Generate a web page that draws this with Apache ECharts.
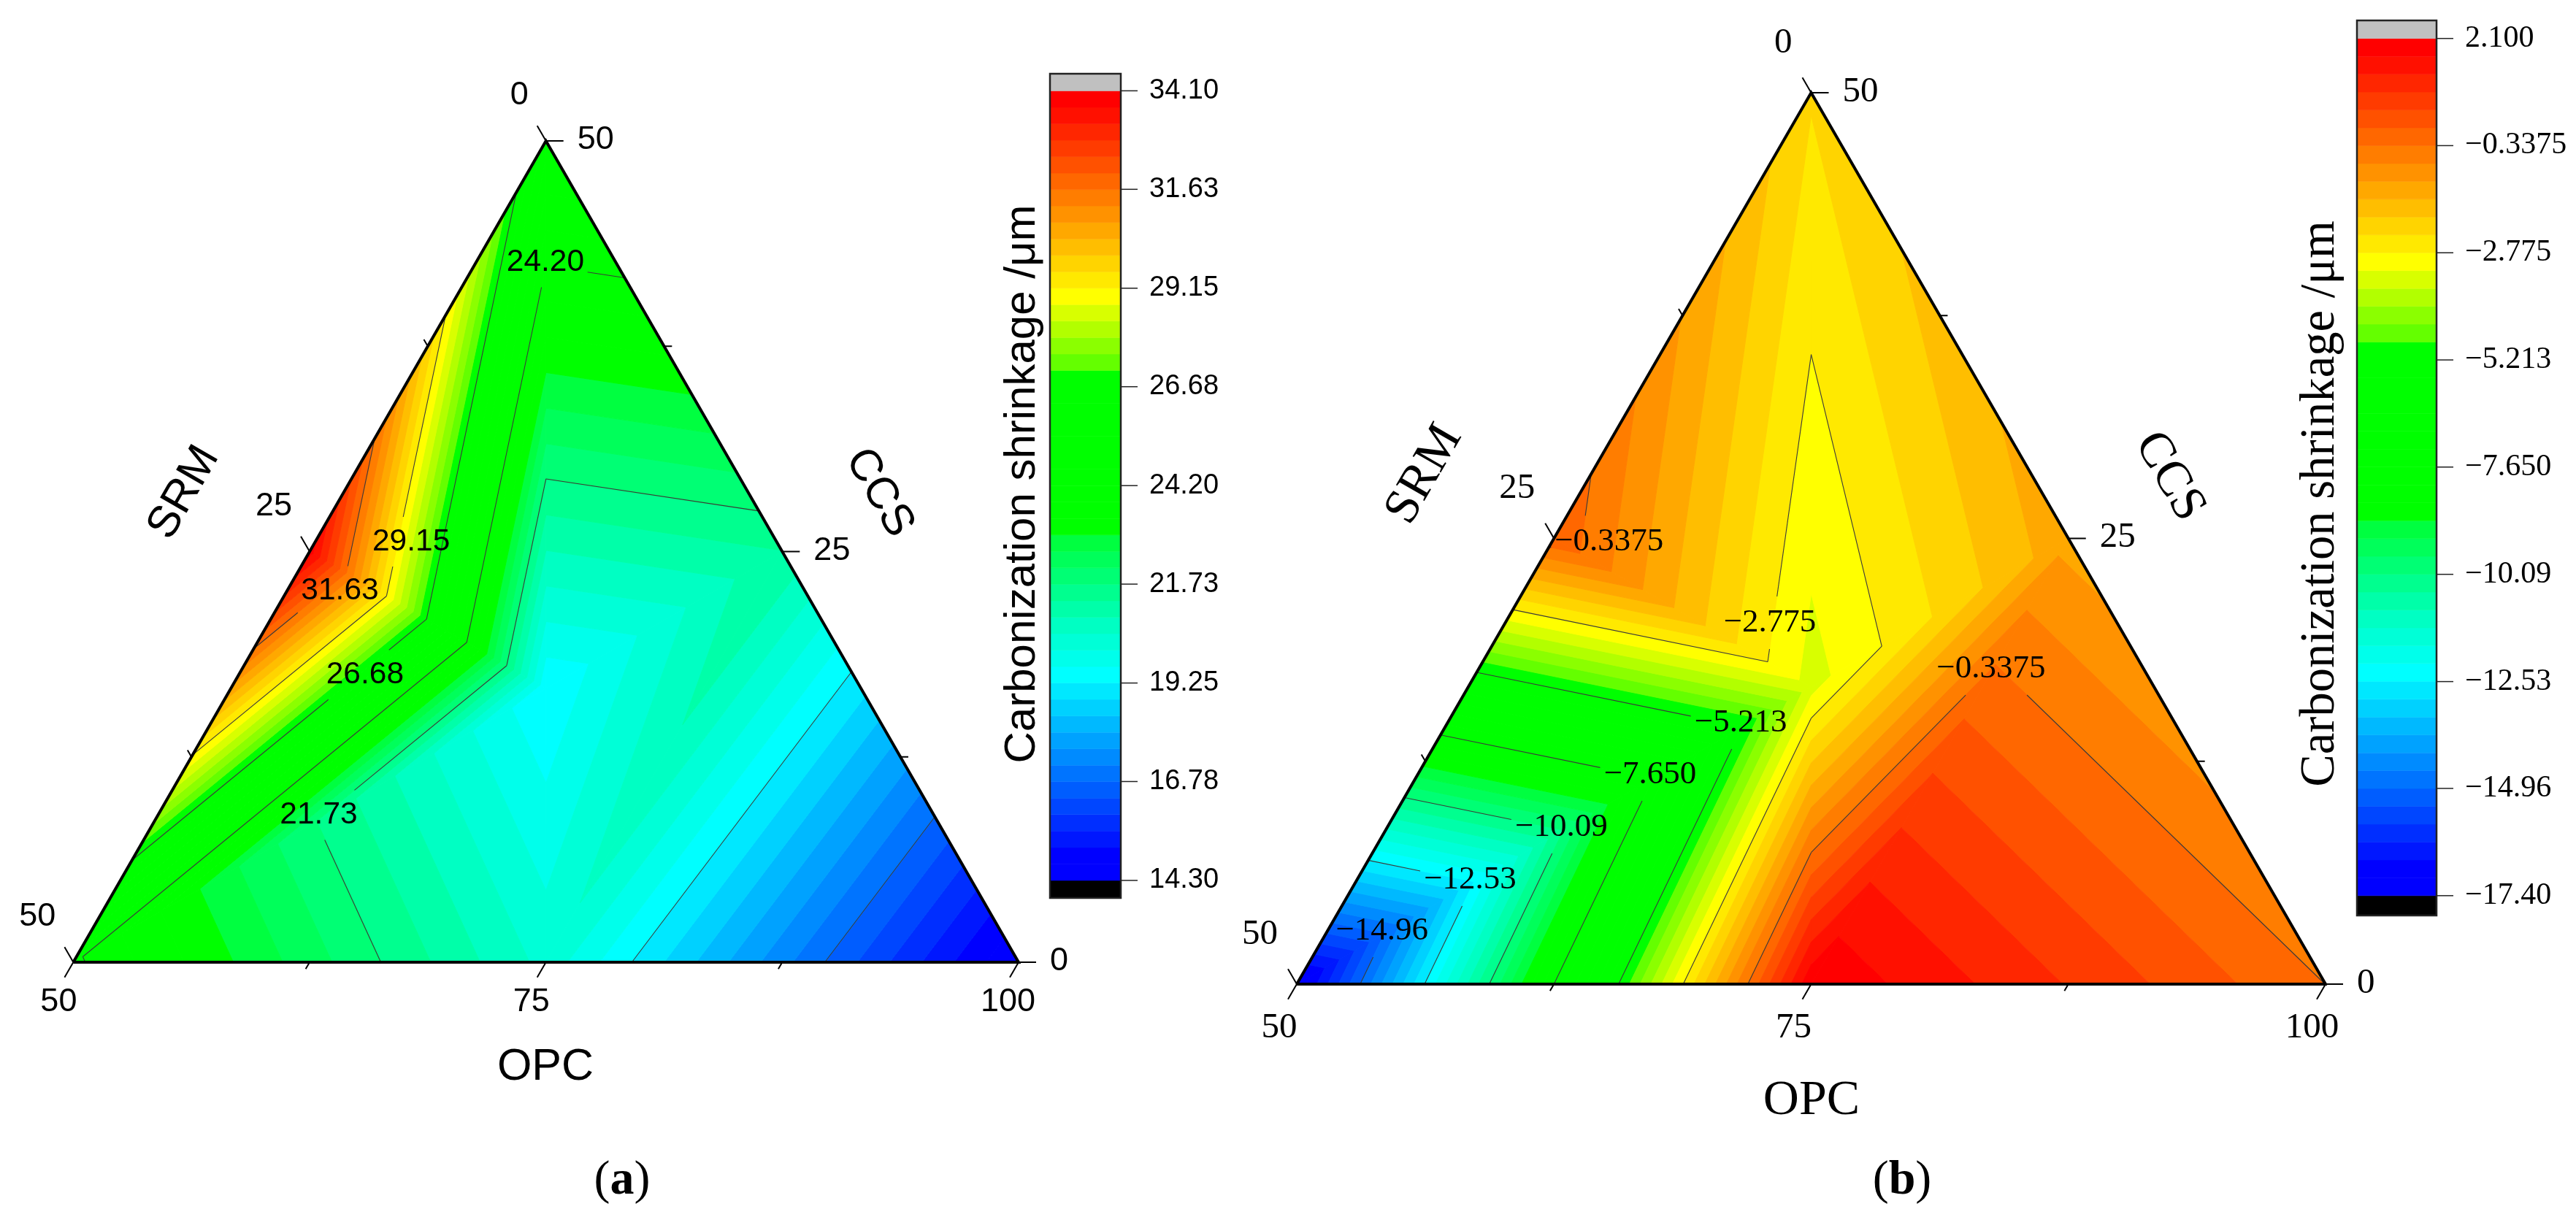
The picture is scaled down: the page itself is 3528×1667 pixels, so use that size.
<!DOCTYPE html>
<html>
<head>
<meta charset="utf-8">
<style>html,body{margin:0;padding:0;background:#fff}#c{width:3528px;height:1667px}</style>
<script src="https://cdn.jsdelivr.net/npm/echarts@6/dist/echarts.min.js"></script>
</head>
<body>
<div id="c"></div>
<script>
// ---------- DATA ----------
// Design points of the ternary mix: top, left-mid, left, bottom-mid, right, right-mid, centroid
const nodeOPC = [50, 50, 50, 75, 100, 75, 66.67];
const nodeSRM = [0, 25, 50, 25, 0, 0, 16.67];
const nodeCCS = [50, 25, 0, 0, 0, 25, 16.67];
const shrinkageA = [25.65, 33.9, 24.3, 20.35, 14.3, 21.3, 19.3];
const shrinkageB = [-2.33, 0.0, -17.35, 2.05, -0.34, -1.28, -3.34];
// Tick values of the three ternary axes
const opcTicks = [50, 62.5, 75, 87.5, 100];
const opcTickText = ['50', '', '75', '', '100'];
const srmTicks = [0, 12.5, 25, 37.5, 50];
const srmTickText = ['0', '', '25', '', '50'];
const ccsTicks = [0, 12.5, 25, 37.5, 50];
const ccsTickText = ['0', '', '25', '', '50'];
// Colour-scale ticks
const scaleA = [14.30, 16.78, 19.25, 21.73, 24.20, 26.68, 29.15, 31.63, 34.10];
const scaleTextA = ['14.30', '16.78', '19.25', '21.73', '24.20', '26.68', '29.15', '31.63', '34.10'];
const scaleB = [-17.40, -14.96, -12.53, -10.09, -7.650, -5.213, -2.775, -0.3375, 2.100];
const scaleTextB = ['\u221217.40', '\u221214.96', '\u221212.53', '\u221210.09', '\u22127.650', '\u22125.213', '\u22122.775', '\u22120.3375', '2.100'];
// Contour levels
const contourA = [16.78, 19.25, 21.73, 24.20, 26.68, 29.15, 31.63];
const contourB = [-14.96, -12.53, -10.09, -7.650, -5.213, -2.775, -0.3375];
// Contour labels: level, OPC, CCS where they sit
const labelLevelA = [24.20, 29.15, 31.63, 26.68, 21.73];
const labelTextA = ['24.20', '29.15', '31.63', '26.68', '21.73'];
const labelOpcA = [53.67, 55.07, 52.8, 56.68, 58.5];
const labelCcsA = [42.6, 25.6, 22.6, 17.5, 8.96];
const labelLevelB = [-0.3375, -2.775, -5.213, -7.650, -10.09, -12.53, -14.96, -0.3375];
const labelTextB = ['\u22120.3375', '\u22122.775', '\u22125.213', '\u22127.650', '\u221210.09', '\u221212.53', '\u221214.96', '\u22120.3375'];
const labelOpcB = [52.78, 62.86, 64.25, 61.3, 58.46, 55.5, 52.65, 74.9];
const labelCcsB = [24.8, 20.27, 14.66, 11.75, 8.8, 5.86, 2.99, 17.69];

// ---------- STYLE / LAYOUT ----------
const triangles = [[2, 3, 6], [3, 5, 6], [3, 4, 5], [5, 0, 6], [0, 1, 6], [1, 2, 6]];
const BANDS = 48;
const colourStops = [
  [0, [0, 0, 255]], [1, [0, 0, 255]], [12, [0, 255, 255]], [15, [0, 255, 195]], [20, [0, 255, 64]], [21, [0, 255, 0]], [30, [0, 255, 0]],
  [31, [100, 255, 0]], [35, [255, 255, 0]], [46, [255, 16, 0]], [47, [255, 0, 0]]
];
function bandColour(i) {
  for (let s = 1; s < colourStops.length; s++) {
    const a = colourStops[s - 1], b = colourStops[s];
    if (i <= b[0]) {
      const t = (i - a[0]) / (b[0] - a[0]);
      return 'rgb(' + a[1].map((c, k) => Math.round(c + (b[1][k] - c) * t)).join(',') + ')';
    }
  }
  return 'rgb(255,0,0)';
}
function toXY(opc, ccs) { return [opc + ccs / 2, ccs]; }

const PLOTS = [
  {
    values: shrinkageA, scale: scaleA, scaleText: scaleTextA, levels: contourA,
    labelLevel: labelLevelA, labelText: labelTextA, labelOpc: labelOpcA, labelCcs: labelCcsA,
    grid: { left: 100.4, top: 193, width: 1294.6, height: 1125 },
    bar: { left: 1438, top: 101, width: 97, height: 1129 }, barExtra: [0.44, 0.428],
    family: '"Liberation Sans"', tickFont: 45, labelFont: 42.5, scaleFont: 38, charW: 21.5, gapH: 34,
    tickLen: 24, lineW: 4,
    off: { bottom: [-20, 55], right: [43, -1], left: [-24, -62] },
    titles: [
      { text: 'SRM', x: 252, y: 675, rot: 60, size: 61 },
      { text: 'CCS', x: 1204, y: 675, rot: -60, size: 61 },
      { text: 'OPC', x: 747, y: 1462, rot: 0, size: 61 },
      { text: 'Carbonization shrinkage /\u03bcm', x: 1400, y: 663, rot: 90, size: 60 }
    ]
  },
  {
    values: shrinkageB, scale: scaleB, scaleText: scaleTextB, levels: contourB,
    labelLevel: labelLevelB, labelText: labelTextB, labelOpc: labelOpcB, labelCcs: labelCcsB,
    grid: { left: 1776, top: 127, width: 1409, height: 1221 },
    bar: { left: 3228, top: 28, width: 109, height: 1226 }, barExtra: [0.451, 0.41],
    family: '"Liberation Serif"', tickFont: 49, labelFont: 45, scaleFont: 42, charW: 21.5, gapH: 36,
    tickLen: 24, lineW: 4,
    off: { bottom: [-24, 60], right: [43, -1], left: [-26, -68] },
    titles: [
      { text: 'SRM', x: 1951, y: 650, rot: 60, size: 68 },
      { text: 'CCS', x: 2971, y: 653, rot: -60, size: 68 },
      { text: 'OPC', x: 2481, y: 1508, rot: 0, size: 68 },
      { text: 'Carbonization shrinkage /\u03bcm', x: 3178, y: 690, rot: 90, size: 66.6 }
    ]
  }
];

// ---------- GEOMETRY FROM THE DATA ----------
function clipBand(poly, lo, hi) {
  function cut(p, test, level) {
    const out = [];
    for (let i = 0; i < p.length; i++) {
      const a = p[i], b = p[(i + 1) % p.length];
      const ia = test(a[2]), ib = test(b[2]);
      if (ia) out.push(a);
      if (ia !== ib) {
        const t = (level - a[2]) / (b[2] - a[2]);
        out.push([a[0] + (b[0] - a[0]) * t, a[1] + (b[1] - a[1]) * t, level]);
      }
    }
    return out;
  }
  let r = cut(poly, v => v >= lo, lo);
  if (r.length) r = cut(r, v => v <= hi, hi);
  return r;
}
function buildBands(values, vmin, vmax) {
  const step = (vmax - vmin) / BANDS, polys = [];
  const nodes = values.map((v, i) => { const p = toXY(nodeOPC[i], nodeCCS[i]); return [p[0], p[1], v]; });
  for (let b = 0; b < BANDS; b++) {
    const lo = b === 0 ? -1e9 : vmin + b * step, hi = b === BANDS - 1 ? 1e9 : vmin + (b + 1) * step;
    triangles.forEach(tr => {
      const r = clipBand(tr.map(k => nodes[k]), lo, hi);
      if (r.length >= 3) polys.push({ pts: r.map(q => [q[0], q[1]]), color: bandColour(b) });
    });
  }
  return polys;
}
function buildContours(values, levels) {
  const segs = [];
  const nodes = values.map((v, i) => { const p = toXY(nodeOPC[i], nodeCCS[i]); return [p[0], p[1], v]; });
  levels.forEach(level => {
    triangles.forEach(tr => {
      const pts = [];
      for (let e = 0; e < 3; e++) {
        const a = nodes[tr[e]], b = nodes[tr[(e + 1) % 3]];
        if ((a[2] - level) * (b[2] - level) < 0) {
          const t = (level - a[2]) / (b[2] - a[2]);
          pts.push([a[0] + (b[0] - a[0]) * t, a[1] + (b[1] - a[1]) * t]);
        }
      }
      if (pts.length === 2) segs.push([pts[0][0], pts[0][1], pts[1][0], pts[1][1], level]);
    });
  });
  return segs;
}
// Pieces of a pixel segment lying outside the rectangles
function cutOutside(p, q, rects) {
  let pieces = [[0, 1]];
  const dx = q[0] - p[0], dy = q[1] - p[1];
  rects.forEach(r => {
    let t0 = 0, t1 = 1, hit = true;
    [[-dx, p[0] - r[0]], [dx, r[1] - p[0]], [-dy, p[1] - r[2]], [dy, r[3] - p[1]]].forEach(c => {
      if (c[0] === 0) { if (c[1] < 0) hit = false; return; }
      const t = c[1] / c[0];
      if (c[0] < 0) t0 = Math.max(t0, t); else t1 = Math.min(t1, t);
    });
    if (hit && t0 < t1) {
      const next = [];
      pieces.forEach(s => {
        if (t1 <= s[0] || t0 >= s[1]) { next.push(s); return; }
        if (t0 > s[0]) next.push([s[0], t0]);
        if (t1 < s[1]) next.push([t1, s[1]]);
      });
      pieces = next;
    }
  });
  return pieces.map(s => [[p[0] + dx * s[0], p[1] + dy * s[0]], [p[0] + dx * s[1], p[1] + dy * s[1]]]);
}

// ---------- OPTION ----------
const grid = [], xAxis = [], yAxis = [], series = [], graphic = [];

PLOTS.forEach((P, n) => {
  const gi = grid.length;
  const vmin = P.scale[0], vmax = P.scale[P.scale.length - 1];
  const step = (vmax - vmin) / BANDS;
  grid.push(Object.assign({ containLabel: false }, P.grid));
  xAxis.push({ gridIndex: gi, type: 'value', min: 50, max: 100, show: false });
  yAxis.push({ gridIndex: gi, type: 'value', min: 0, max: 50, show: false });

  const polys = buildBands(P.values, vmin, vmax);
  series.push({
    type: 'custom', xAxisIndex: gi, yAxisIndex: gi, z: 1, clip: false, silent: true, animation: false,
    data: polys.map((p, i) => [i]),
    renderItem: (params, api) => {
      const p = polys[api.value(0)];
      return { type: 'polygon', shape: { points: p.pts.map(q => api.coord(q)) }, style: { fill: p.color, stroke: p.color, lineWidth: 1 } };
    }
  });

  const rects = api => P.labelLevel.map((lv, i) => {
    const c = api.coord(toXY(P.labelOpc[i], P.labelCcs[i]));
    const hw = P.labelText[i].length * P.charW / 2 + 4;
    return { lv, r: [c[0] - hw, c[0] + hw, c[1] - P.gapH, c[1] + P.gapH] };
  });
  series.push({
    type: 'custom', xAxisIndex: gi, yAxisIndex: gi, z: 2, clip: false, silent: true, animation: false,
    data: buildContours(P.values, P.levels),
    renderItem: (params, api) => {
      const a = api.coord([api.value(0), api.value(1)]), b = api.coord([api.value(2), api.value(3)]);
      const lv = api.value(4);
      const own = rects(api).filter(o => o.lv === lv).map(o => o.r);
      return {
        type: 'group',
        children: cutOutside(a, b, own).map(s => ({
          type: 'line',
          shape: { x1: s[0][0], y1: s[0][1], x2: s[1][0], y2: s[1][1] },
          style: { stroke: '#3a3a3a', lineWidth: 1.1, fill: null }
        }))
      };
    }
  });

  // Triangle frame, from the three pure corners
  const corners = [toXY(50, 0), toXY(100, 0), toXY(50, 50), toXY(50, 0)];
  series.push({
    type: 'line', xAxisIndex: gi, yAxisIndex: gi, z: 3, clip: false, silent: true, animation: false,
    showSymbol: false, symbol: 'none', data: corners,
    lineStyle: { color: '#000', width: P.lineW, join: 'miter' }
  });

  // Axis ticks + labels
  const tickData = [];
  opcTicks.forEach((v, i) => tickData.push({ xy: toXY(v, 0), side: 'bottom', major: i % 2 === 0, text: opcTickText[i] }));
  ccsTicks.forEach((v, i) => tickData.push({ xy: toXY(100 - v, v), side: 'right', major: i % 2 === 0, text: ccsTickText[i] }));
  srmTicks.forEach((v, i) => tickData.push({ xy: toXY(50, 50 - v), side: 'left', major: i % 2 === 0, text: srmTickText[i] }));
  const dirs = { bottom: [-0.5, 0.866], right: [1, 0], left: [-0.5, -0.866] };
  const aligns = { bottom: 'center', right: 'left', left: 'right' };
  series.push({
    type: 'custom', xAxisIndex: gi, yAxisIndex: gi, z: 4, clip: false, silent: true, animation: false,
    data: tickData.map((t, i) => [t.xy[0], t.xy[1], i]),
    renderItem: (params, api) => {
      const t = tickData[api.value(2)];
      const c = api.coord([api.value(0), api.value(1)]);
      const d = dirs[t.side], len = t.major ? P.tickLen : P.tickLen * 0.45;
      const kids = [{
        type: 'line',
        shape: { x1: c[0], y1: c[1], x2: c[0] + d[0] * len, y2: c[1] + d[1] * len },
        style: { stroke: '#000', lineWidth: 2, fill: null }
      }];
      if (t.text) {
        const o = P.off[t.side];
        const extra = t.side === 'bottom' ? (t.text.length - 2) * 5.5 : 0;
        kids.push({
          type: 'text', x: c[0] + o[0] + extra, y: c[1] + o[1],
          style: { text: t.text, fill: '#000', font: P.tickFont + 'px ' + P.family, align: aligns[t.side], verticalAlign: 'middle' }
        });
      }
      return { type: 'group', children: kids };
    }
  });

  // Contour labels
  series.push({
    type: 'custom', xAxisIndex: gi, yAxisIndex: gi, z: 5, clip: false, silent: true, animation: false,
    data: P.labelText.map((t, i) => { const q = toXY(P.labelOpc[i], P.labelCcs[i]); return [q[0], q[1], i]; }),
    renderItem: (params, api) => {
      const c = api.coord([api.value(0), api.value(1)]);
      return {
        type: 'text', x: c[0], y: c[1],
        style: { text: P.labelText[api.value(2)], fill: '#000', font: P.labelFont + 'px ' + P.family, align: 'center', verticalAlign: 'middle' }
      };
    }
  });

  // Colour scale
  const bi = grid.length;
  const barMin = vmin - P.barExtra[0], barMax = vmax + P.barExtra[1];
  grid.push(Object.assign({ containLabel: false }, P.bar));
  xAxis.push({ gridIndex: bi, type: 'value', min: 0, max: 1, show: false });
  yAxis.push({
    gridIndex: bi, type: 'value', position: 'right', min: barMin, max: barMax,
    axisLine: { show: false }, splitLine: { show: false }, axisTick: { show: false },
    axisLabel: {
      show: true, customValues: P.scale, margin: 39, align: 'left',
      color: '#000', fontFamily: P.family.replace(/"/g, ''), fontSize: P.scaleFont,
      formatter: v => { let best = 0; P.scale.forEach((s, i) => { if (Math.abs(s - v) < Math.abs(P.scale[best] - v)) best = i; }); return P.scaleText[best]; }
    }
  });
  const barData = [];
  barData.push([barMin, vmin, 'rgb(0,0,0)']);
  for (let b = 0; b < BANDS; b++) barData.push([vmin + b * step, vmin + (b + 1) * step, bandColour(b)]);
  barData.push([vmax, barMax, 'rgb(192,192,192)']);
  series.push({
    type: 'custom', xAxisIndex: bi, yAxisIndex: bi, z: 1, clip: false, silent: true, animation: false,
    data: barData.map((d, i) => [d[0], d[1], i]),
    renderItem: (params, api) => {
      const a = api.coord([0, api.value(1)]), b = api.coord([1, api.value(0)]);
      const col = barData[api.value(2)][2];
      return { type: 'rect', shape: { x: a[0], y: a[1], width: b[0] - a[0], height: b[1] - a[1] }, style: { fill: col, stroke: col, lineWidth: 0.6 } };
    }
  });
  series.push({
    type: 'custom', xAxisIndex: bi, yAxisIndex: bi, z: 2, clip: false, silent: true, animation: false,
    data: [[barMin, barMax]],
    renderItem: (params, api) => {
      const a = api.coord([0, api.value(1)]), b = api.coord([1, api.value(0)]);
      return { type: 'rect', shape: { x: a[0], y: a[1], width: b[0] - a[0], height: b[1] - a[1] }, style: { fill: null, stroke: '#222', lineWidth: 2.5 } };
    }
  });
  // Colour-scale ticks
  series.push({
    type: 'custom', xAxisIndex: bi, yAxisIndex: bi, z: 3, clip: false, silent: true, animation: false,
    data: P.scale.map(v => [v]),
    renderItem: (params, api) => {
      const c = api.coord([1, api.value(0)]);
      return { type: 'line', shape: { x1: c[0], y1: c[1], x2: c[0] + 23, y2: c[1] }, style: { stroke: '#222', lineWidth: 1.5, fill: null } };
    }
  });

  P.titles.forEach(t => graphic.push({
    type: 'text', x: t.x, y: t.y, rotation: t.rot * Math.PI / 180, z: 10, silent: true,
    style: { text: t.text, fill: '#000', font: t.size + 'px ' + P.family, align: 'center', verticalAlign: 'middle' }
  }));
});

[['a', 852], ['b', 2605]].forEach(c => graphic.push({
  type: 'text', x: c[1], y: 1618, z: 10, silent: true,
  style: {
    text: '(' + '{b|' + c[0] + '})',
    font: '66px "Liberation Serif"', fill: '#000', align: 'center', verticalAlign: 'middle',
    rich: { b: { font: 'bold 66px "Liberation Serif"', fill: '#000' } }
  }
}));

const chart = echarts.init(document.getElementById('c'), null, { renderer: 'canvas', width: 3528, height: 1667 });
chart.setOption({ backgroundColor: '#fff', animation: false, grid, xAxis, yAxis, series, graphic });
</script>
</body>
</html>
